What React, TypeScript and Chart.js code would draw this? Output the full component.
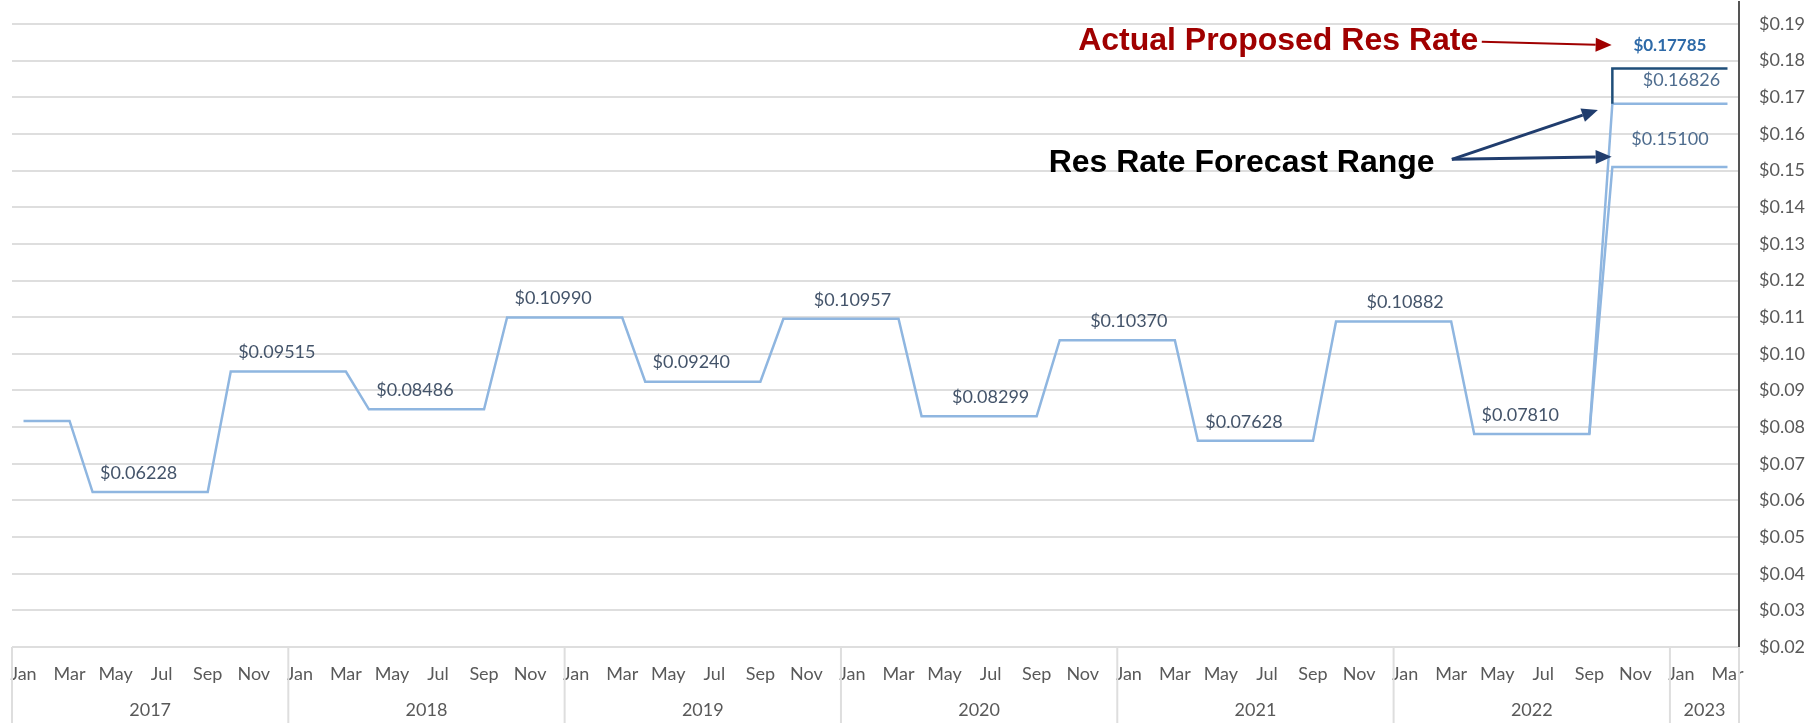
import React, { useEffect, useRef } from "react";
import { Chart, registerables } from "chart.js";

Chart.register(...registerables);

// ---------- data ----------
const MONTHS = ["Jan", "Feb", "Mar", "Apr", "May", "Jun", "Jul", "Aug", "Sep", "Oct", "Nov", "Dec"];
const YEARS = ["2017", "2018", "2019", "2020", "2021", "2022", "2023"];
const MONTHS_PER_YEAR = [12, 12, 12, 12, 12, 12, 3];

// monthly residential rate ($/kWh), Jan 2017 .. Mar 2023
const RATE_2017 = [0.0817, 0.0817, 0.0817, 0.06228, 0.06228, 0.06228, 0.06228, 0.06228, 0.06228, 0.09515, 0.09515, 0.09515];
const RATE_2018 = [0.09515, 0.09515, 0.09515, 0.08486, 0.08486, 0.08486, 0.08486, 0.08486, 0.08486, 0.1099, 0.1099, 0.1099];
const RATE_2019 = [0.1099, 0.1099, 0.1099, 0.0924, 0.0924, 0.0924, 0.0924, 0.0924, 0.0924, 0.10957, 0.10957, 0.10957];
const RATE_2020 = [0.10957, 0.10957, 0.10957, 0.08299, 0.08299, 0.08299, 0.08299, 0.08299, 0.08299, 0.1037, 0.1037, 0.1037];
const RATE_2021 = [0.1037, 0.1037, 0.1037, 0.07628, 0.07628, 0.07628, 0.07628, 0.07628, 0.07628, 0.10882, 0.10882, 0.10882];
const RATE_2022 = [0.10882, 0.10882, 0.10882, 0.0781, 0.0781, 0.0781, 0.0781, 0.0781, 0.0781, 0.16826, 0.16826, 0.16826];
const RATE_2023 = [0.16826, 0.16826, 0.16826];

// lower end of forecast range (Sep 2022 start point, then Oct 2022 .. Mar 2023)
const LOW_START = "Sep 2022";
const LOW_VALUES = [0.0781, 0.151, 0.151, 0.151, 0.151, 0.151, 0.151];

// actual proposed rate
const ACTUAL_FROM = "Oct 2022";
const ACTUAL_TO = "Mar 2023";
const FORECAST_HIGH = 0.16826;
const ACTUAL_RATE = 0.17785;

// which monthly points carry a data label
const MAIN_LABEL_AT = [5, 11, 17, 23, 29, 36, 42, 48, 53, 60, 65, 72];

const Y_TICKS = [0.02, 0.03, 0.04, 0.05, 0.06, 0.07, 0.08, 0.09, 0.1, 0.11, 0.12, 0.13, 0.14, 0.15, 0.16, 0.17, 0.18, 0.19];

// ---------- derived tables ----------
const categories: string[] = [];
const monthNames: string[] = [];
YEARS.forEach((y, yi) => {
  for (let m = 0; m < MONTHS_PER_YEAR[yi]; m++) {
    categories.push(`${MONTHS[m]} ${y}`);
    monthNames.push(MONTHS[m]);
  }
});
const mainSeries = [...RATE_2017, ...RATE_2018, ...RATE_2019, ...RATE_2020, ...RATE_2021, ...RATE_2022, ...RATE_2023];
const lowSeries: (number | null)[] = categories.map(() => null);
const lowStartIdx = categories.indexOf(LOW_START);
LOW_VALUES.forEach((v, i) => (lowSeries[lowStartIdx + i] = v));
const actualSeries = [
  { x: ACTUAL_FROM, y: FORECAST_HIGH },
  { x: ACTUAL_FROM, y: ACTUAL_RATE },
  { x: ACTUAL_TO, y: ACTUAL_RATE },
];

// ---------- styles ----------
const LIGHT_BLUE = "#8fb6e0";
const DARK_BLUE = "#1f4e79";
const LABEL_COLOR = "#44546a";
const AXIS_TEXT = "#595959";
const GRID = "#dedede";
const AXIS_FONT = "Lato, 'Open Sans', sans-serif";
const ANN_FONT = "'Liberation Sans', Arial, sans-serif";

const fmt = (v: number) => "$" + v.toFixed(5);

function drawArrow(ctx: CanvasRenderingContext2D, x1: number, y1: number, x2: number, y2: number, color: string, width: number) {
  const head = 16;
  const half = 7;
  const a = Math.atan2(y2 - y1, x2 - x1);
  const bx = x2 - head * Math.cos(a);
  const by = y2 - head * Math.sin(a);
  ctx.strokeStyle = color;
  ctx.lineWidth = width;
  ctx.beginPath();
  ctx.moveTo(x1, y1);
  ctx.lineTo(bx, by);
  ctx.stroke();
  ctx.fillStyle = color;
  ctx.beginPath();
  ctx.moveTo(x2, y2);
  ctx.lineTo(bx + half * Math.sin(a), by - half * Math.cos(a));
  ctx.lineTo(bx - half * Math.sin(a), by + half * Math.cos(a));
  ctx.closePath();
  ctx.fill();
}

const labelsPlugin = {
  id: "valueLabels",
  afterDatasetsDraw(chart: any) {
    const { ctx } = chart;
    const xs = chart.scales.x;
    const ys = chart.scales.y;
    ctx.save();
    ctx.textAlign = "center";
    ctx.textBaseline = "middle";
    ctx.font = `18px ${AXIS_FONT}`;
    MAIN_LABEL_AT.forEach((i, k) => {
      const last = k === MAIN_LABEL_AT.length - 1;
      const v = mainSeries[i];
      ctx.fillStyle = last ? "#4e6c8e" : LABEL_COLOR;
      ctx.fillText(fmt(v), xs.getPixelForValue(i), ys.getPixelForValue(v) - (last ? 23 : 19));
    });
    // low forecast
    const lowV = LOW_VALUES[LOW_VALUES.length - 1];
    ctx.fillStyle = "#4e6c8e";
    ctx.fillText(fmt(lowV), xs.getPixelForValue(71.5), ys.getPixelForValue(lowV) - 28);
    // actual
    ctx.font = `bold 17px ${AXIS_FONT}`;
    ctx.fillStyle = "#2e6aa8";
    ctx.fillText(fmt(ACTUAL_RATE), xs.getPixelForValue(71.5), ys.getPixelForValue(ACTUAL_RATE) - 23);
    ctx.restore();
  },
  afterDraw(chart: any) {
    const { ctx, chartArea } = chart;
    const xs = chart.scales.x;
    const ys = chart.scales.y;
    ctx.save();
    // year group separators and labels
    ctx.strokeStyle = GRID;
    ctx.lineWidth = 2;
    let start = 0;
    ctx.fillStyle = AXIS_TEXT;
    ctx.font = `18px ${AXIS_FONT}`;
    ctx.textAlign = "center";
    ctx.textBaseline = "middle";
    YEARS.forEach((y, yi) => {
      const n = MONTHS_PER_YEAR[yi];
      const x0 = xs.getPixelForValue(start - 0.5);
      const x1 = xs.getPixelForValue(start + n - 0.5);
      ctx.beginPath();
      ctx.moveTo(x0, chartArea.bottom);
      ctx.lineTo(x0, chartArea.bottom + 76);
      ctx.stroke();
      if (yi === YEARS.length - 1) {
        ctx.beginPath();
        ctx.moveTo(x1, chartArea.bottom);
        ctx.lineTo(x1, chartArea.bottom + 76);
        ctx.stroke();
      }
      ctx.fillText(y, (x0 + x1) / 2, chartArea.bottom + 63);
      start += n;
    });

    // annotations
    const P = (i: number, v: number) => [xs.getPixelForValue(i), ys.getPixelForValue(v)];
    ctx.textAlign = "left";
    ctx.textBaseline = "alphabetic";
    ctx.font = `bold 32px ${ANN_FONT}`;
    ctx.fillStyle = "#a00000";
    const [rtx, rty] = P(45.8, 0.1828);
    ctx.fillText("Actual Proposed Res Rate", rtx, rty);
    const [r1x, r1y] = P(63.33, 0.18516);
    const [r2x, r2y] = P(68.97, 0.18425);
    drawArrow(ctx, r1x, r1y, r2x, r2y, "#a00000", 2);

    ctx.fillStyle = "#000000";
    const [btx, bty] = P(44.52, 0.1497);
    ctx.fillText("Res Rate Forecast Range", btx, bty);
    const [b0x, b0y] = P(62.03, 0.15307);
    const [b1x, b1y] = P(68.37, 0.16652);
    const [b2x, b2y] = P(68.97, 0.15378);
    drawArrow(ctx, b0x, b0y, b1x, b1y, "#203d6e", 3);
    drawArrow(ctx, b0x, b0y, b2x, b2y, "#203d6e", 3);
    ctx.restore();
  },
};

export default function App() {
  const ref = useRef<HTMLCanvasElement>(null);
  useEffect(() => {
    const chart = new Chart(ref.current!, {
      type: "line",
      data: {
        labels: categories,
        datasets: [
          {
            label: "Actual Proposed",
            data: actualSeries as any,
            borderColor: DARK_BLUE,
            borderWidth: 2.5,
            pointRadius: 0,
            tension: 0,
          },
          {
            label: "Forecast High",
            data: mainSeries,
            borderColor: LIGHT_BLUE,
            borderWidth: 2.5,
            pointRadius: 0,
            tension: 0,
          },
          {
            label: "Forecast Low",
            data: lowSeries,
            borderColor: LIGHT_BLUE,
            borderWidth: 2.5,
            pointRadius: 0,
            tension: 0,
          },
        ],
      },
      options: {
        responsive: false,
        devicePixelRatio: 1,
        animation: false,
        layout: { padding: { top: 2, left: 12, right: 0, bottom: 0 } },
        plugins: { legend: { display: false }, tooltip: { enabled: false } },
        scales: {
          x: {
            type: "category",
            offset: true,
            grid: { display: false, drawTicks: false },
            border: { display: false },
            afterFit: (s: any) => {
              s.height = 78;
              s.paddingLeft = 0;
              s.paddingRight = 0;
            },
            ticks: {
              autoSkip: false,
              maxRotation: 0,
              minRotation: 0,
              padding: 16,
              color: AXIS_TEXT,
              font: { family: AXIS_FONT, size: 18 },
              callback: (_v: any, i: number) => (i % 2 === 0 ? monthNames[i] : ""),
            },
          },
          y: {
            position: "right",
            min: 0.02,
            max: 0.196,
            afterBuildTicks: (s: any) => {
              s.ticks = Y_TICKS.map((v) => ({ value: v }));
            },
            afterFit: (s: any) => {
              s.width = 79;
              s.paddingTop = 0;
              s.paddingBottom = 0;
            },
            grid: { color: GRID, lineWidth: 2, drawTicks: false },
            border: { display: true, color: "#555555", width: 2 },
            ticks: {
              padding: 20,
              color: AXIS_TEXT,
              font: { family: AXIS_FONT, size: 18 },
              callback: (v: any) => "$" + Number(v).toFixed(2),
            },
          },
        },
      },
      plugins: [labelsPlugin],
    });
    return () => chart.destroy();
  }, []);
  return (
    <div style={{ position: "fixed", left: 0, top: 0, width: 1818, height: 725, background: "#ffffff" }}>
      <canvas ref={ref} width={1818} height={725} style={{ display: "block", width: 1818, height: 725 }} />
    </div>
  );
}
